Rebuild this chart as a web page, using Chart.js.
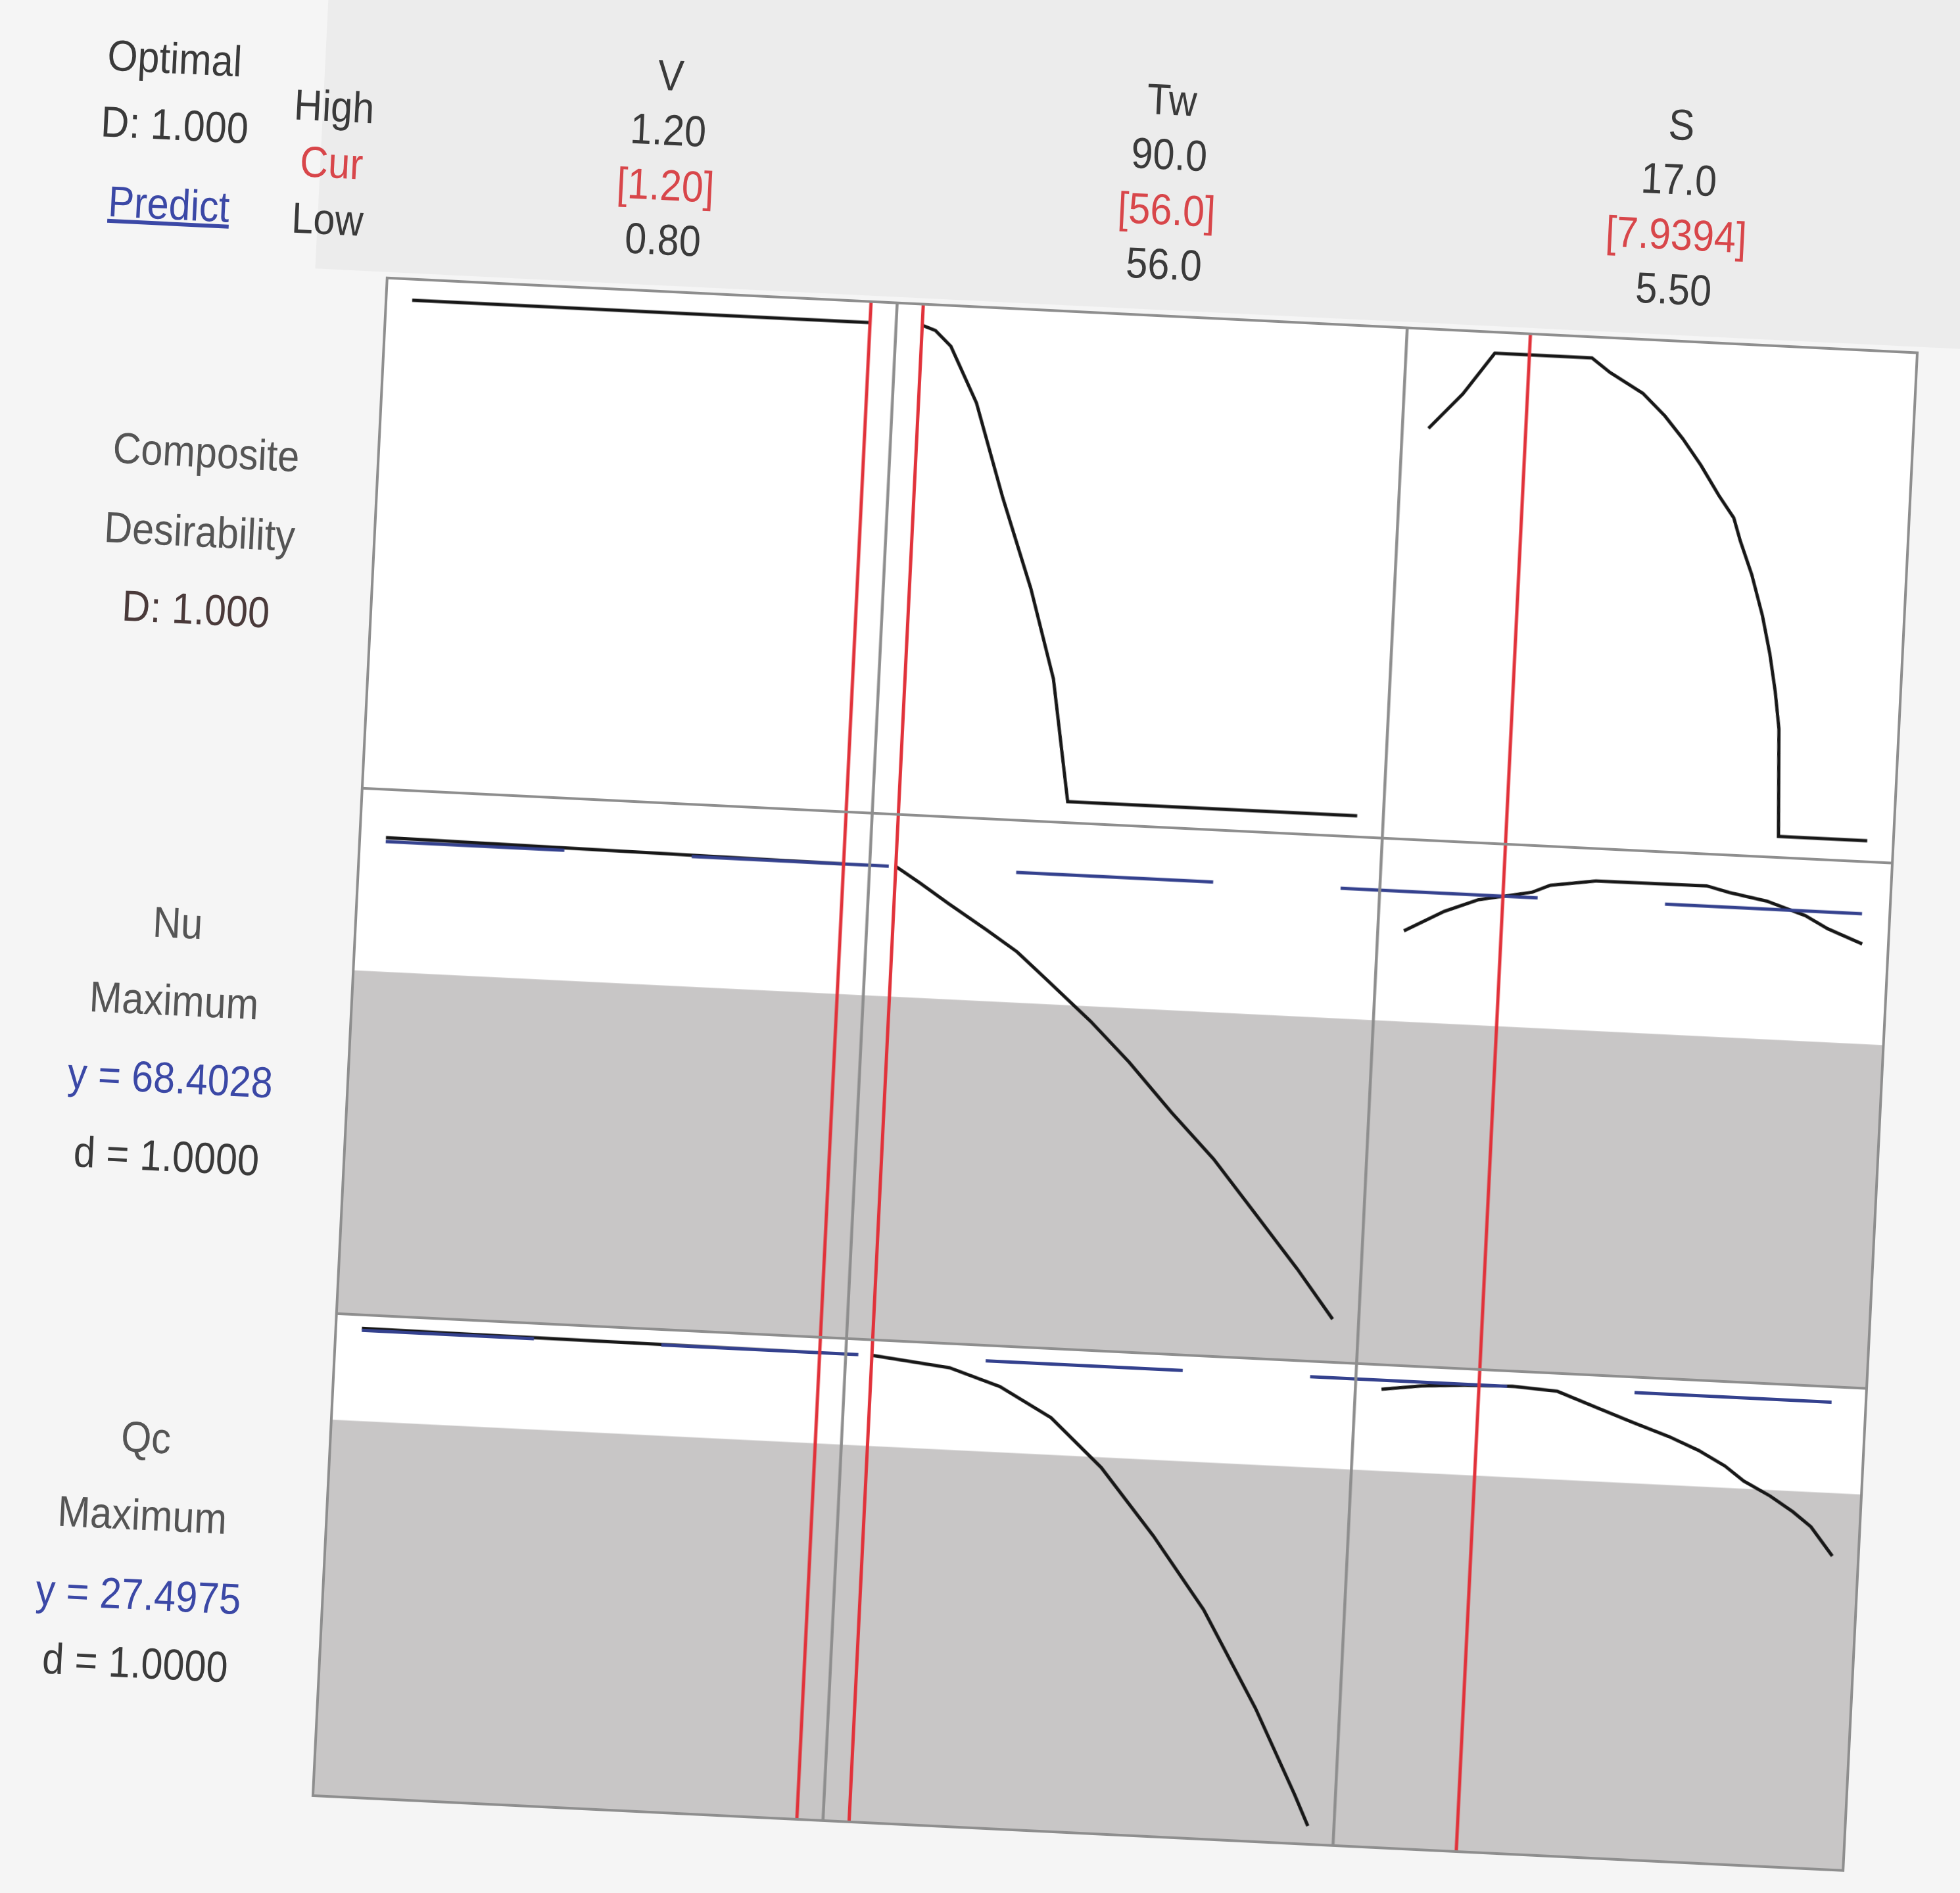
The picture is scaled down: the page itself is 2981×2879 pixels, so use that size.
<!DOCTYPE html>
<html>
<head>
<meta charset="utf-8">
<script src="https://cdn.jsdelivr.net/npm/chart.js@4.4.1/dist/chart.umd.min.js"></script>
<style>
  html, body { margin: 0; padding: 0; background: #f5f5f5; overflow: hidden; }
  #page { position: absolute; left: 0; top: 0; width: 2981px; height: 2879px;
          transform-origin: 1711px 1654px; transform: rotate(2.8deg); }
  #band { position: absolute; left: 420px; top: -200px; width: 2800px; height: 670px; background: #ececec; }
  #chart { position: absolute; left: 520px; top: 469px; }
  .lbl { position: absolute; font-family: "Liberation Sans", Arial, sans-serif; font-size: 66px;
         white-space: nowrap; color: #3a3a3a; transform: translate(-50%, -50%) scaleX(0.9); }
</style>
</head>
<body>
<div id="page">
  <div id="band"></div>
  <canvas id="chart" width="2350" height="2331"></canvas>
</div>
<script>
// factor settings
const factors = ['V', 'Tw', 'S'];
const lows = [0.80, 56.0, 5.50];
const highs = [1.20, 90.0, 17.0];
const current = [1.20, 56.0, 7.9394];
const highLabels = ['1.20', '90.0', '17.0'];
const curLabels = ['[1.20]', '[56.0]', '[7.9394]'];
const lowLabels = ['0.80', '56.0', '5.50'];

// responses
const responses = ['Nu', 'Qc'];
const goals = ['Maximum', 'Maximum'];
const responseY = [68.4028, 27.4975];
const responseD = ['1.0000', '1.0000'];
const compositeD = '1.000';
const lowerLimit = [58.5, 22.8];   // shaded region below these

// composite desirability vs each factor
const dV_x = [0.80, 1.20];
const dV_y = [1, 1];
const dTw_x = [56, 57, 58.2, 60.3, 62.6, 65.0, 67.0, 68.5, 90];
const dTw_y = [1, 0.99, 0.958, 0.84, 0.64, 0.45, 0.26, 0, 0];
const dS_x = [5.5, 6.32, 7.07, 9.51, 9.98, 10.83, 11.41, 11.89, 12.37, 12.86, 13.26, 13.45, 13.78, 14.10, 14.33, 14.51, 14.65, 14.77, 17.0];
const dS_y = [0.833, 0.91, 1, 1, 0.971, 0.930, 0.884, 0.837, 0.783, 0.720, 0.674, 0.626, 0.555, 0.468, 0.388, 0.309, 0.229, 0, 0];

// Nu vs each factor
const nuV_x = [0.80, 0.90, 1.00, 1.10, 1.20];
const nuV_y = [68.70, 68.62, 68.55, 68.47, 68.40];
const nuTw_x = [56, 57.9, 60.0, 62.96, 65.3, 67.5, 71.0, 74.0, 77.3, 80.6, 83.6, 87.2, 90.0];
const nuTw_y = [68.40, 67.2, 65.8, 63.92, 62.36, 60.44, 57.36, 54.4, 50.76, 47.36, 43.72, 39.32, 35.64];
const nuS_x = [5.5, 6.49, 7.32, 8.66, 9.11, 10.25, 13.03, 13.60, 14.56, 15.54, 16.12, 17.0];
const nuS_y = [65.4, 67.03, 68.03, 68.8, 69.4, 69.9, 69.94, 69.52, 69.0, 68.04, 67.13, 66.1];

// Qc vs each factor
const qcV_x = [0.80, 0.90, 1.00, 1.10, 1.20];
const qcV_y = [27.60, 27.57, 27.54, 27.52, 27.50];
const qcTw_x = [56, 61.8, 65.6, 69.5, 73.4, 77.5, 81.5, 85.7, 88.9, 90.0];
const qcTw_y = [27.50, 27.05, 26.2, 24.72, 22.27, 18.87, 15.17, 10.2, 5.85, 4.25];
const qcS_x = [5.5, 6.5, 7.58, 8.78, 9.91, 10.95, 11.81, 12.76, 13.52, 14.2, 14.69, 15.37, 15.96, 16.43, 17.0];
const qcS_y = [27.03, 27.3, 27.45, 27.52, 27.37, 26.6, 25.97, 25.31, 24.67, 23.93, 23.2, 22.49, 21.73, 21.0, 19.54];

// axis ranges of the three rows
const yRanges = [[-0.045, 1.045], [32.36, 72.36], [3.3, 28.3]];
const rowWeights = [777, 800, 734];

const pad = 0.057;
const xMin = lows.map((l, i) => l - pad * (highs[i] - l));
const xMax = highs.map((h, i) => h + pad * (h - lows[i]));
// position on the full-width helper axis (one unit per column)
const gx = (i, v) => i + (v - xMin[i]) / (xMax[i] - xMin[i]);
const pts = (xs, ys) => xs.map((x, k) => ({x: x, y: ys[k]}));

const curves = [
  [[dV_x, dV_y], [dTw_x, dTw_y], [dS_x, dS_y]],
  [[nuV_x, nuV_y], [nuTw_x, nuTw_y], [nuS_x, nuS_y]],
  [[qcV_x, qcV_y], [qcTw_x, qcTw_y], [qcS_x, qcS_y]]
];

const dashOffset = [28, 38];
const datasets = [];
for (let r = 0; r < 3; r++) {
  for (let c = 0; c < 3; c++) {
    datasets.push({
      data: pts(curves[r][c][0], curves[r][c][1]),
      xAxisID: 'x' + c, yAxisID: 'y' + r,
      borderColor: '#171717', borderWidth: 5, pointRadius: 0, fill: false, order: 2
    });
  }
}
for (let k = 0; k < 2; k++) {
  datasets.push({
    data: [{x: 0, y: lowerLimit[k]}, {x: 3, y: lowerLimit[k]}],
    xAxisID: 'xg', yAxisID: 'y' + (k + 1),
    borderWidth: 0, pointRadius: 0, backgroundColor: '#c8c6c6', fill: 'start', order: 5
  });
  datasets.push({
    data: [{x: gx(0, lows[0]), y: responseY[k]}, {x: gx(2, highs[2]), y: responseY[k]}],
    xAxisID: 'xg', yAxisID: 'y' + (k + 1),
    borderColor: '#34418e', borderWidth: 5, borderDash: [300, 194], borderDashOffset: dashOffset[k],
    pointRadius: 0, fill: false, order: 1
  });
}
for (let c = 0; c < 3; c++) {
  datasets.push({
    data: [{x: current[c], y: 0}, {x: current[c], y: 1}],
    xAxisID: 'x' + c, yAxisID: 'yg',
    borderColor: '#e1323a', borderWidth: 5, pointRadius: 0, fill: false, order: 0
  });
}

const scales = {};
for (let c = 0; c < 3; c++) {
  scales['x' + c] = {type: 'linear', axis: 'x', position: 'bottom', stack: 'cols', stackWeight: 1,
    weight: c + 1, min: xMin[c], max: xMax[c], display: false};
}
scales.xg = {type: 'linear', axis: 'x', position: 'bottom', min: 0, max: 3, display: false, weight: 10};
for (let r = 0; r < 3; r++) {
  scales['y' + r] = {type: 'linear', axis: 'y', position: 'left', stack: 'rows', stackWeight: rowWeights[r],
    weight: 3 - r, min: yRanges[r][0], max: yRanges[r][1], display: false};
}
scales.yg = {type: 'linear', axis: 'y', position: 'left', min: 0, max: 1, display: false, weight: 0};

// white panels underneath, grey frames on top
const panels = {
  id: 'panels',
  beforeDatasetsDraw(chart) {
    const ctx = chart.ctx;
    ctx.save();
    ctx.fillStyle = '#ffffff';
    for (let r = 0; r < 3; r++) for (let c = 0; c < 3; c++) {
      const xs = chart.scales['x' + c], ys = chart.scales['y' + r];
      ctx.fillRect(xs.left, ys.top, xs.right - xs.left, ys.bottom - ys.top);
    }
    ctx.restore();
  },
  afterDatasetsDraw(chart) {
    const ctx = chart.ctx;
    ctx.save();
    ctx.strokeStyle = '#8e8e8e';
    ctx.lineWidth = 4;
    for (let r = 0; r < 3; r++) for (let c = 0; c < 3; c++) {
      const xs = chart.scales['x' + c], ys = chart.scales['y' + r];
      ctx.strokeRect(xs.left, ys.top, xs.right - xs.left, ys.bottom - ys.top);
    }
    ctx.restore();
  }
};

new Chart(document.getElementById('chart'), {
  type: 'line',
  data: { datasets: datasets },
  options: {
    responsive: false,
    animation: false,
    events: [],
    layout: { padding: 10 },
    elements: { line: { tension: 0 } },
    plugins: { legend: { display: false }, tooltip: { enabled: false } },
    scales: scales
  },
  plugins: [panels]
});

// text around the grid
const page = document.getElementById('page');
function label(text, x, y, color, extra) {
  const d = document.createElement('div');
  d.className = 'lbl';
  d.textContent = text;
  d.style.left = x + 'px';
  d.style.top = y + 'px';
  if (color) d.style.color = color;
  if (extra) Object.assign(d.style, extra);
  page.appendChild(d);
}
const red = '#d8464a', blue = '#3b48a6';
label('Optimal', 191, 161);
label('D: ' + compositeD, 196, 262);
label('Predict', 193, 383, blue, {textDecoration: 'underline'});
label('High', 437, 222);
label('Cur', 437, 308, red);
label('Low', 435, 394);

const colX = [946, 1709, 2485];
const headY = [150, 233, 317, 400];
for (let c = 0; c < 3; c++) {
  label(factors[c], colX[c], headY[0]);
  label(highLabels[c], colX[c], headY[1]);
  label(curLabels[c], colX[c], headY[2], red);
  label(lowLabels[c], colX[c], headY[3]);
}

label('Composite', 268, 757, '#555');
label('Desirability', 264, 878, '#555');
label('D: ' + compositeD, 264, 996, '#4a3a3a');

const rowLabelX = [260, 250];
const rowLabelY = [[1474, 1592, 1710, 1829], [2258, 2376, 2497, 2601]];
for (let k = 0; k < 2; k++) {
  label(responses[k], rowLabelX[k], rowLabelY[k][0], '#555');
  label(goals[k], rowLabelX[k], rowLabelY[k][1], '#555');
  label('y = ' + responseY[k].toFixed(4), rowLabelX[k], rowLabelY[k][2], blue);
  label('d = ' + responseD[k], rowLabelX[k], rowLabelY[k][3]);
}
</script>
</body>
</html>
